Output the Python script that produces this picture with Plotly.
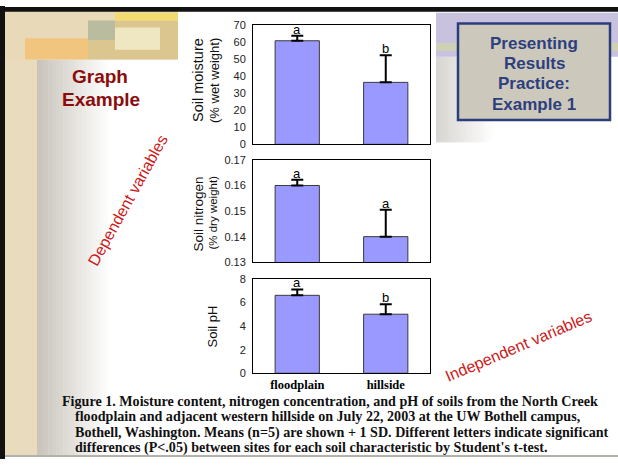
import plotly.graph_objects as go

# ---------------- data ----------------
sites = ["floodplain", "hillside"]
moisture_mean = [61.0, 36.5]
moisture_sd = [3.0, 16.0]
moisture_letters = ["a", "b"]
nitrogen_mean = [0.160, 0.140]
nitrogen_sd = [0.0022, 0.0105]
nitrogen_letters = ["a", "a"]
ph_mean = [6.6, 5.0]
ph_sd = [0.5, 0.85]
ph_letters = ["a", "b"]

caption_lines = [
    "Figure 1. Moisture content, nitrogen concentration, and pH of soils from the North Creek",
    "floodplain and adjacent western hillside on July 22, 2003 at the UW Bothell campus,",
    "Bothell, Washington. Means (n=5) are shown + 1 SD. Different letters indicate significant",
    "differences (P<.05) between sites for each soil characteristic by Student's t-test.",
]

W, H = 618, 465


def px(x):
    return x / W


def py(y):
    return 1 - y / H


BAR_FILL = "#9999ff"
BAR_LINE = "#3a3a3a"

fig = go.Figure()

panels = [
    (moisture_mean, moisture_sd, moisture_letters, "x", "y"),
    (nitrogen_mean, nitrogen_sd, nitrogen_letters, "x2", "y2"),
    (ph_mean, ph_sd, ph_letters, "x3", "y3"),
]

for mean, sd, letters, xa, ya in panels:
    fig.add_trace(go.Bar(
        x=sites, y=mean, xaxis=xa, yaxis=ya, width=0.5,
        marker=dict(color=BAR_FILL, line=dict(color=BAR_LINE, width=1)),
        error_y=dict(type="data", symmetric=False, array=sd, arrayminus=[0] * len(sd),
                     color="black", thickness=2, width=6),
        showlegend=False, hoverinfo="skip",
    ))
    for s, m, e, l in zip(sites, mean, sd, letters):
        fig.add_annotation(x=s, y=m + e, xref=xa, yref=ya, text=l, showarrow=False,
                           yanchor="bottom", yshift=-3,
                           font=dict(family="Arial, Liberation Sans", size=13, color="black"))

xdom = [px(253), px(430)]
ydoms = [[py(142), py(20)], [py(263), py(158)], [py(377), py(280)]]

axis_common = dict(showline=True, linecolor="black", linewidth=1, mirror=True,
                   showgrid=False, zeroline=False, ticks="")
tickfont = dict(family="Arial, Liberation Sans", size=11, color="#222")
serif = "Liberation Serif, Times New Roman, serif"

layout = dict(
    width=W, height=H, margin=dict(l=0, r=0, t=0, b=0),
    paper_bgcolor="white", plot_bgcolor="white", bargap=0.5,
    xaxis=dict(domain=xdom, anchor="y", showticklabels=False, range=[-0.5, 1.5], **axis_common),
    xaxis2=dict(domain=xdom, anchor="y2", showticklabels=False, range=[-0.5, 1.5], **axis_common),
    xaxis3=dict(domain=xdom, anchor="y3", showticklabels=True, range=[-0.5, 1.5],
                tickfont=dict(family=serif, size=12.5, color="black", weight="bold"),
                ticklabelstandoff=0, **axis_common),
    yaxis=dict(domain=ydoms[0], anchor="x", range=[0, 70], dtick=10, tickfont=tickfont,
               ticklabelstandoff=4, **axis_common),
    yaxis2=dict(domain=ydoms[1], anchor="x2", range=[0.13, 0.17], dtick=0.01, tickformat=".2f",
                tickfont=tickfont, ticklabelstandoff=4, **axis_common),
    yaxis3=dict(domain=ydoms[2], anchor="x3", range=[0, 8], dtick=2, tickfont=tickfont,
                ticklabelstandoff=4, **axis_common),
)
fig.update_layout(**layout)

# --------------- slide background ---------------
shapes = []


def rect(x0, y0, x1, y1, fill, line=None, lw=0, layer="below"):
    shapes.append(dict(type="rect", xref="paper", yref="paper",
                       x0=px(x0), x1=px(x1), y0=py(y1), y1=py(y0),
                       fillcolor=fill, line=dict(color=line or fill, width=lw), layer=layer))


def hexmix(c1, c2, t):
    a = [int(c1[i:i + 2], 16) for i in (1, 3, 5)]
    b = [int(c2[i:i + 2], 16) for i in (1, 3, 5)]
    return "#" + "".join(f"{round(a[k] + (b[k] - a[k]) * t):02x}" for k in range(3))


# left gradient panel
n = 20
for i in range(n):
    x0 = 37 + i * (75 / n)
    rect(x0, 55, x0 + 75 / n + 0.5, 462, hexmix("#c9c5bd", "#ffffff", i / (n - 1)))
# top-right gradient under picture
for i in range(n):
    x0 = 436 + i * (60 / n)
    rect(x0, 52, x0 + 60 / n + 0.5, 140, hexmix("#d8d6d2", "#ffffff", i / (n - 1)))

# beige textured strip
rect(5, 5, 37, 462, "#e8dbbe")
rect(5, 5, 178, 55, "#e8dab8")
rect(25, 33, 88, 55, "#f1c57e")
rect(88, 15, 178, 55, "#dcc690")
rect(88, 15, 115, 35, "#b9bc9e")
rect(115, 7, 178, 15, "#f2dc70")
rect(115, 22, 160, 45, "#efe6c2")
# top-right picture
rect(436, 7, 618, 52, "#c8c2de")
rect(436, 38, 618, 46, "#cfd2b2")
# borders
rect(0, 0, 5, 465, "#111111")
rect(0, 1, 618, 6, "#111111")
rect(5, 461, 618, 463, "#b5b2ac")
# title box
rect(458, 18, 610, 117, "#cdc8bc", line="#2c3d7b", lw=2.5, layer="above")

fig.update_layout(shapes=shapes)

# --------------- texts ---------------
ann = []


def text(x, y, s, size, color, family="Arial, Liberation Sans", bold=False, angle=0,
         xanchor="center", yanchor="middle"):
    ann.append(dict(x=px(x), y=py(y), xref="paper", yref="paper", text=f"<b>{s}</b>" if bold else s,
                    showarrow=False, textangle=angle, xanchor=xanchor, yanchor=yanchor,
                    font=dict(family=family, size=size, color=color)))


text(100, 72, "Graph", 19, "#8b0c0c", bold=True)
text(101, 96, "Example", 19, "#8b0c0c", bold=True)
for i, s in enumerate(["Presenting", "Results", "Practice:", "Example 1"]):
    text(534, 38 + i * 21, s, 17, "#2d3f7c", bold=True)

text(128, 200, "Dependent variables", 16, "#cc1a1a", angle=-61)
text(518, 350, "Independent variables", 16, "#cc1a1a", angle=-23)

# y-axis titles
text(198, 76, "Soil moisture", 14.5, "#111", angle=-90)
text(214, 77, "(% wet weight)", 13, "#111", angle=-90)
text(198, 214, "Soil nitrogen", 13.5, "#111", angle=-90)
text(213, 212, "(% dry weight)", 11.5, "#111", angle=-90)
text(213, 329, "Soil pH", 13, "#111", angle=-90)

# caption
for i, s in enumerate(caption_lines):
    text(60 if i == 0 else 73, 405 + i * 16.2, s, 14.1, "#111", family=serif, bold=True,
         xanchor="left")

for a in ann:
    fig.add_annotation(**a)

fig.write_html("out.html", post_script="document.body.style.margin='0px';",
               config={"displayModeBar": False})
